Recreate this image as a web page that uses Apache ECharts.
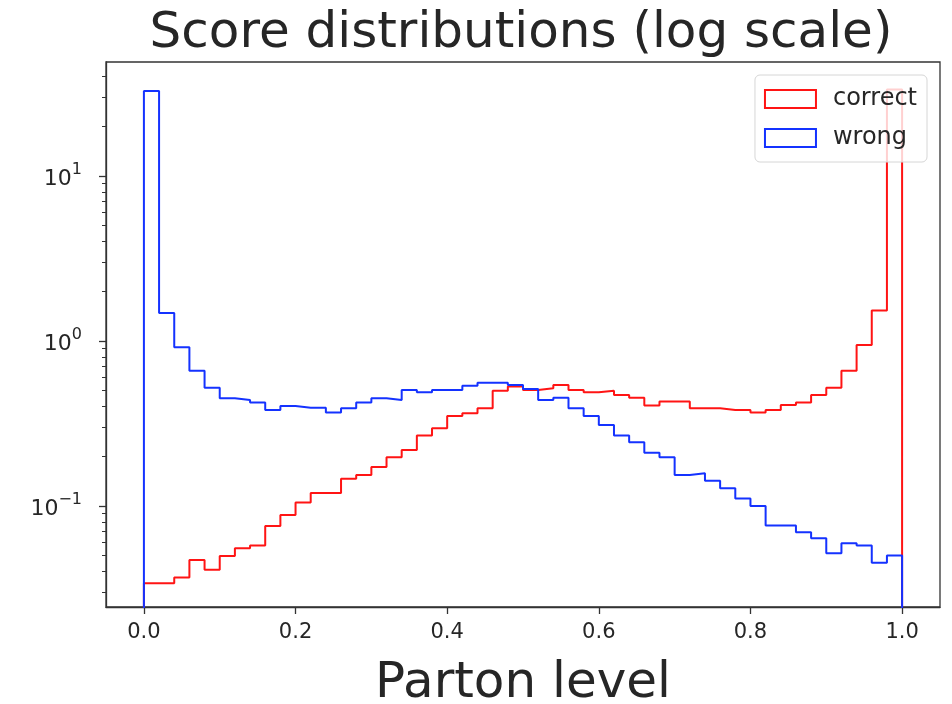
<!DOCTYPE html>
<html>
<head>
<meta charset="utf-8">
<title>Score distributions</title>
<script src="https://cdn.jsdelivr.net/npm/echarts@6/dist/echarts.min.js"></script>
<style>
  html, body { margin: 0; padding: 0; background: #fff; }
  #chart { width: 952px; height: 704px; }
</style>
</head>
<body>
<div id="chart"></div>
<script>
// Histogram of scores, 50 bins of width 0.02 on [0, 1], log-scaled density
const BIN_WIDTH = 0.02;

const correct = [
  0.034, 0.034, 0.0368, 0.0471, 0.041, 0.0498, 0.0554, 0.0575, 0.0756, 0.0882,
  0.105, 0.120, 0.120, 0.146, 0.154, 0.172, 0.197, 0.218, 0.267, 0.296,
  0.351, 0.365, 0.391, 0.500, 0.529, 0.505, 0.517, 0.541, 0.505, 0.489,
  0.500, 0.471, 0.453, 0.406, 0.429, 0.429, 0.391, 0.391, 0.382, 0.382,
  0.368, 0.382, 0.409, 0.423, 0.471, 0.521, 0.660, 0.946, 1.53, 33.5
];

const wrong = [
  32.7, 1.48, 0.916, 0.66, 0.521, 0.449, 0.439, 0.423, 0.382, 0.404,
  0.394, 0.394, 0.368, 0.391, 0.423, 0.449, 0.439, 0.505, 0.489, 0.505,
  0.505, 0.536, 0.559, 0.559, 0.541, 0.512, 0.439, 0.453, 0.391, 0.351,
  0.310, 0.267, 0.243, 0.210, 0.197, 0.154, 0.158, 0.142, 0.128, 0.111,
  0.100, 0.076, 0.076, 0.0692, 0.0636, 0.0517, 0.0594, 0.0575, 0.0453, 0.050
];

const xTicks = [0, 0.2, 0.4, 0.6, 0.8, 1.0];
const yMajorTicks = [0.1, 1, 10];
const yMinorTicks = [
  0.03, 0.04, 0.05, 0.06, 0.07, 0.08, 0.09,
  0.2, 0.3, 0.4, 0.5, 0.6, 0.7, 0.8, 0.9,
  2, 3, 4, 5, 6, 7, 8, 9,
  20, 30, 40
];

const Y_MIN = 0.0244;
const Y_MAX = 49.1;
// the outline starts and ends below the visible range, like a step histogram's base
const FLOOR = 1e-4;

const RED = '#ff1414';
const BLUE = '#1432ff';
const FONT = 'DejaVu Sans';
const INK = '#262626';
const SPINE = '#333';

// outline of a step histogram: rise at the first edge, step across each bin, drop at the last edge
function stepOutline(values) {
  const pts = [[0, FLOOR]];
  values.forEach((v, i) => pts.push([i * BIN_WIDTH, v]));
  const last = values.length * BIN_WIDTH;
  pts.push([last, values[values.length - 1]]);
  pts.push([last, FLOOR]);
  return pts;
}

function powerLabel(v) {
  const e = Math.round(Math.log10(v));
  const exp = e < 0 ? '\u2212' + (-e) : String(e);
  return '{b|10}{s|' + exp + '}';
}

const chart = echarts.init(document.getElementById('chart'), null, { renderer: 'canvas' });

chart.setOption({
  animation: false,
  backgroundColor: '#fff',
  title: {
    text: 'Score distributions (log scale)',
    left: 516,
    textAlign: 'center',
    top: 4,
    textStyle: { fontFamily: FONT, fontSize: 50, fontWeight: 'normal', color: INK }
  },
  grid: {
    left: 106, right: 12, top: 62, bottom: 97,
    outerBoundsMode: 'none',
    containLabel: false,
    show: true, borderColor: SPINE, borderWidth: 1.3, backgroundColor: 'transparent'
  },
  legend: {
    orient: 'vertical',
    right: 25, top: 75,
    itemWidth: 51, itemHeight: 18, itemGap: 15,
    padding: [12, 10, 12, 9],
    backgroundColor: 'rgba(255,255,255,0.8)',
    borderColor: '#d6d6d6', borderWidth: 1, borderRadius: 5,
    textStyle: { fontFamily: FONT, fontSize: 24, color: INK, padding: [0, 0, 0, 12] },
    data: [
      { name: 'correct', icon: 'rect', itemStyle: { color: 'rgba(255,255,255,0)', borderColor: RED, borderWidth: 2 } },
      { name: 'wrong', icon: 'rect', itemStyle: { color: 'rgba(255,255,255,0)', borderColor: BLUE, borderWidth: 2 } }
    ]
  },
  xAxis: {
    type: 'value',
    min: -0.05, max: 1.05,
    name: 'Parton level',
    nameLocation: 'middle',
    nameGap: 52,
    nameTextStyle: { fontFamily: FONT, fontSize: 50, color: INK },
    splitLine: { show: false },
    axisLine: { show: true, onZero: false, lineStyle: { color: SPINE, width: 1.3 } },
    axisTick: { show: true, length: 7, customValues: xTicks, lineStyle: { color: SPINE, width: 1.3 } },
    axisLabel: {
      customValues: xTicks,
      margin: 15,
      fontFamily: FONT, fontSize: 21, color: INK,
      formatter: v => v.toFixed(1)
    }
  },
  yAxis: [
    {
      type: 'log', logBase: 10,
      min: Y_MIN, max: Y_MAX,
      splitLine: { show: false },
      axisLine: { show: true, onZero: false, lineStyle: { color: SPINE, width: 1.3 } },
      axisTick: { show: true, length: 7, customValues: yMajorTicks, lineStyle: { color: SPINE, width: 1.3 } },
      axisLabel: {
        customValues: yMajorTicks,
        margin: 24,
        formatter: powerLabel,
        rich: {
          b: { fontFamily: FONT, fontSize: 22, color: INK, lineHeight: 28, verticalAlign: 'bottom' },
          s: { fontFamily: FONT, fontSize: 16, color: INK, lineHeight: 28, verticalAlign: 'top' }
        }
      }
    },
    {
      type: 'log', logBase: 10,
      min: Y_MIN, max: Y_MAX,
      position: 'left',
      splitLine: { show: false },
      axisLine: { show: false, onZero: false },
      axisLabel: { show: false },
      axisTick: { show: true, length: 4, customValues: yMinorTicks, lineStyle: { color: SPINE, width: 1 } }
    }
  ],
  series: [
    {
      name: 'correct', type: 'line', step: 'end',
      yAxisIndex: 0,
      data: stepOutline(correct),
      showSymbol: false, symbol: 'none',
      lineStyle: { color: RED, width: 2 },
      itemStyle: { color: RED },
      clip: true, z: 2
    },
    {
      name: 'wrong', type: 'line', step: 'end',
      yAxisIndex: 0,
      data: stepOutline(wrong),
      showSymbol: false, symbol: 'none',
      lineStyle: { color: BLUE, width: 2 },
      itemStyle: { color: BLUE },
      clip: true, z: 3
    }
  ]
});
</script>
</body>
</html>
